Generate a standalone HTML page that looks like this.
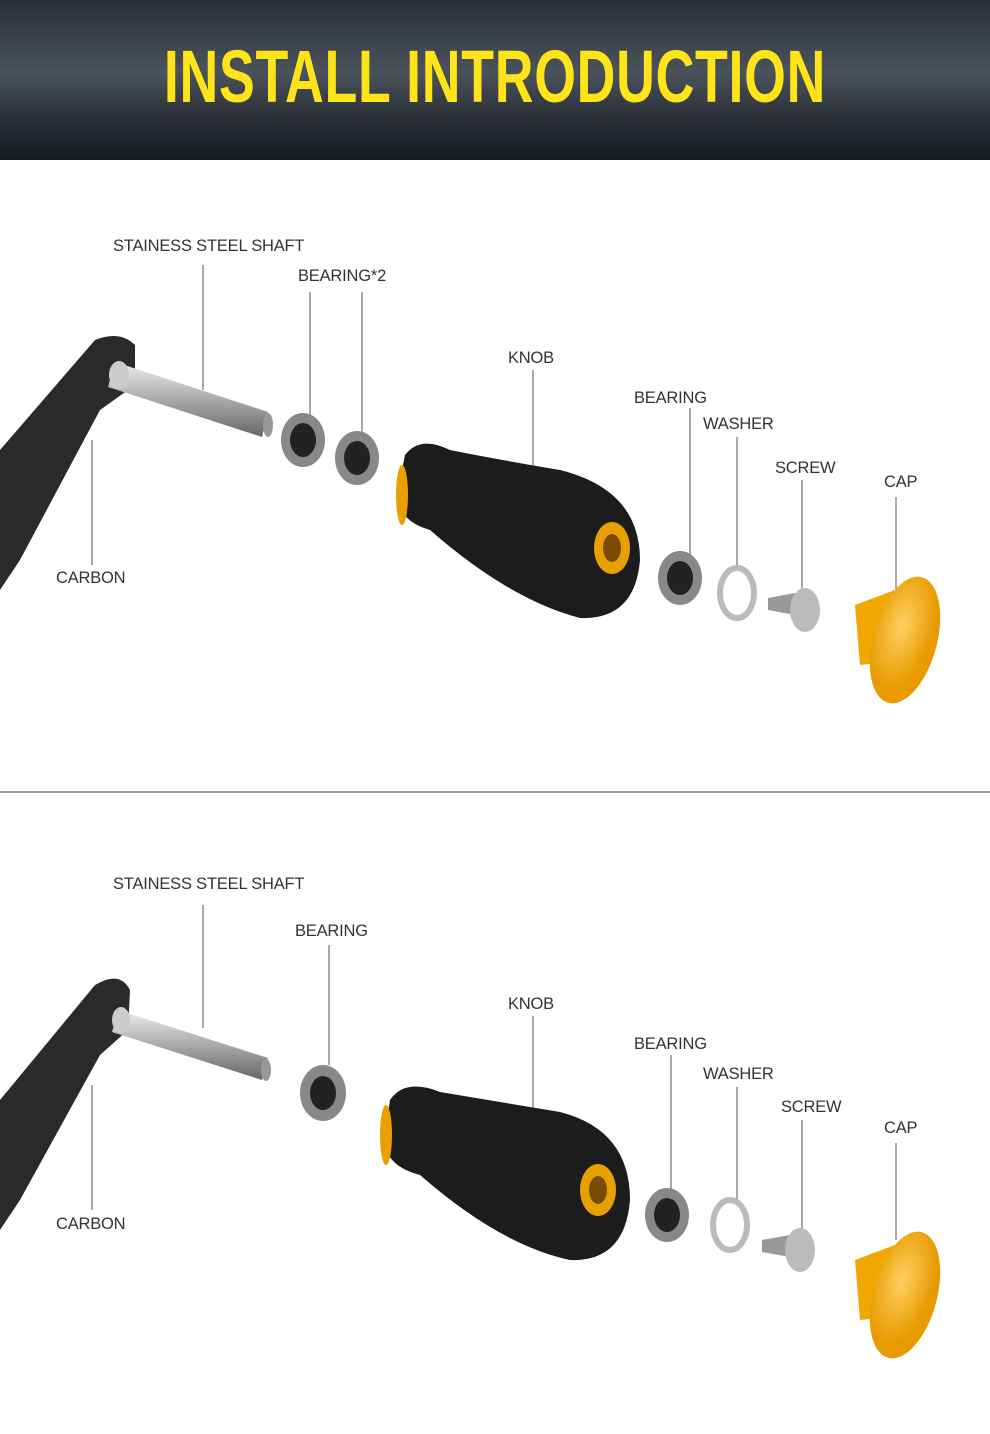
<!DOCTYPE html>
<html><head><meta charset="utf-8"><style>
html,body{margin:0;padding:0;background:#fff;}
body{width:990px;height:1434px;position:relative;overflow:hidden;font-family:"Liberation Sans",sans-serif;}
.hdr{position:absolute;left:0;top:0;width:990px;height:160px;background:linear-gradient(180deg,#2b3038 0%,#4a525c 45%,#2a2f36 75%,#161a1f 100%);}
.title{position:absolute;left:0;top:32px;width:990px;text-align:center;font-family:"Liberation Sans",sans-serif;font-weight:bold;font-size:74px;color:#ffe41a;transform:scaleX(0.725);letter-spacing:1px;line-height:90px;}
.lbl{position:absolute;font-size:16.5px;letter-spacing:-0.2px;color:#333;white-space:nowrap;}
svg{position:absolute;left:0;top:0;}
</style></head><body>
<div class="hdr"></div>
<div class="title">INSTALL INTRODUCTION</div>

<svg width="990" height="1434" viewBox="0 0 990 1434">
<defs>
<linearGradient id="sh" x1="0" y1="0" x2="0" y2="1"><stop offset="0" stop-color="#eee"/><stop offset="0.5" stop-color="#aaa"/><stop offset="1" stop-color="#666"/></linearGradient>
<radialGradient id="cap" cx="0.4" cy="0.4"><stop offset="0" stop-color="#ffd060"/><stop offset="1" stop-color="#e89a00"/></radialGradient>
</defs>
<g stroke="#555" stroke-width="1">
<line x1="203" y1="265" x2="203" y2="390"/><line x1="310" y1="292" x2="310" y2="415"/><line x1="362" y1="292" x2="362" y2="432"/>
<line x1="533" y1="370" x2="533" y2="505"/><line x1="690" y1="408" x2="690" y2="555"/><line x1="737" y1="437" x2="737" y2="565"/>
<line x1="802" y1="480" x2="802" y2="600"/><line x1="896" y1="497" x2="896" y2="590"/><line x1="92" y1="440" x2="92" y2="565"/>
<line x1="0" y1="792" x2="990" y2="792" stroke="#333"/>
<line x1="203" y1="905" x2="203" y2="1028"/><line x1="329" y1="945" x2="329" y2="1065"/><line x1="533" y1="1016" x2="533" y2="1150"/>
<line x1="671" y1="1055" x2="671" y2="1190"/><line x1="737" y1="1087" x2="737" y2="1205"/><line x1="802" y1="1120" x2="802" y2="1240"/>
<line x1="896" y1="1143" x2="896" y2="1240"/><line x1="92" y1="1085" x2="92" y2="1210"/>
</g>
<path d="M0 450 L95 340 Q120 330 135 345 L135 385 L100 410 L20 560 L0 590 Z" fill="#2a2a2a"/>
<path d="M115 362 L268 412 L262 437 L108 387 Z" fill="url(#sh)"/>
<ellipse cx="268" cy="425" rx="5" ry="12" fill="#999"/>
<ellipse cx="119" cy="375" rx="10" ry="14" fill="#ccc"/>
<g><ellipse cx="303" cy="440" rx="22" ry="27" fill="#888"/><ellipse cx="303" cy="440" rx="13" ry="17" fill="#222"/></g>
<g><ellipse cx="357" cy="458" rx="22" ry="27" fill="#888"/><ellipse cx="357" cy="458" rx="13" ry="17" fill="#222"/></g>
<path d="M405 455 Q420 435 450 450 Q500 460 560 470 Q640 490 640 560 Q635 620 580 618 Q510 600 430 530 Q395 520 398 490 Z" fill="#1c1c1c"/>
<ellipse cx="402" cy="495" rx="6" ry="30" fill="#e8a000"/>
<ellipse cx="612" cy="548" rx="18" ry="26" fill="#e8a000"/><ellipse cx="612" cy="548" rx="9" ry="14" fill="#7a4a00"/>
<g><ellipse cx="680" cy="578" rx="22" ry="27" fill="#888"/><ellipse cx="680" cy="578" rx="13" ry="17" fill="#222"/></g>
<ellipse cx="737" cy="593" rx="17" ry="25" fill="none" stroke="#bbb" stroke-width="6"/>
<path d="M768 598 L795 593 L795 615 L768 610 Z" fill="#999"/><ellipse cx="805" cy="610" rx="15" ry="22" fill="#bbb"/>
<path d="M855 605 L895 590 L905 660 L860 665 Z" fill="#f0a800"/>
<ellipse cx="905" cy="640" rx="32" ry="65" transform="rotate(15 905 640)" fill="url(#cap)"/>
<path d="M0 1100 L95 985 Q120 970 130 990 L128 1030 L100 1055 L20 1200 L0 1230 Z" fill="#2a2a2a"/>
<path d="M118 1010 L268 1058 L262 1080 L112 1032 Z" fill="url(#sh)"/>
<ellipse cx="266" cy="1070" rx="5" ry="11" fill="#999"/>
<ellipse cx="121" cy="1020" rx="9" ry="13" fill="#ccc"/>
<g><ellipse cx="323" cy="1093" rx="23" ry="28" fill="#888"/><ellipse cx="323" cy="1093" rx="13" ry="17" fill="#222"/></g>
<path d="M390 1100 Q405 1078 440 1092 Q500 1102 560 1112 Q630 1130 630 1200 Q625 1262 570 1260 Q500 1245 420 1175 Q382 1165 385 1135 Z" fill="#1c1c1c"/>
<ellipse cx="386" cy="1135" rx="6" ry="30" fill="#e8a000"/>
<ellipse cx="598" cy="1190" rx="18" ry="26" fill="#e8a000"/><ellipse cx="598" cy="1190" rx="9" ry="14" fill="#7a4a00"/>
<g><ellipse cx="667" cy="1215" rx="22" ry="27" fill="#888"/><ellipse cx="667" cy="1215" rx="13" ry="17" fill="#222"/></g>
<ellipse cx="730" cy="1225" rx="17" ry="25" fill="none" stroke="#bbb" stroke-width="6"/>
<path d="M762 1240 L790 1235 L790 1257 L762 1252 Z" fill="#999"/><ellipse cx="800" cy="1250" rx="15" ry="22" fill="#bbb"/>
<path d="M855 1260 L895 1245 L905 1315 L860 1320 Z" fill="#f0a800"/>
<ellipse cx="905" cy="1295" rx="32" ry="65" transform="rotate(15 905 1295)" fill="url(#cap)"/>
</svg>

<div class="lbl" style="left:113px;top:237px">STAINESS STEEL SHAFT</div>
<div class="lbl" style="left:298px;top:267px">BEARING*2</div>
<div class="lbl" style="left:508px;top:349px">KNOB</div>
<div class="lbl" style="left:634px;top:389px">BEARING</div>
<div class="lbl" style="left:703px;top:415px">WASHER</div>
<div class="lbl" style="left:775px;top:459px">SCREW</div>
<div class="lbl" style="left:884px;top:473px">CAP</div>
<div class="lbl" style="left:56px;top:569px">CARBON</div>

<div class="lbl" style="left:113px;top:875px">STAINESS STEEL SHAFT</div>
<div class="lbl" style="left:295px;top:922px">BEARING</div>
<div class="lbl" style="left:508px;top:995px">KNOB</div>
<div class="lbl" style="left:634px;top:1035px">BEARING</div>
<div class="lbl" style="left:703px;top:1065px">WASHER</div>
<div class="lbl" style="left:781px;top:1098px">SCREW</div>
<div class="lbl" style="left:884px;top:1119px">CAP</div>
<div class="lbl" style="left:56px;top:1215px">CARBON</div>
</body></html>
